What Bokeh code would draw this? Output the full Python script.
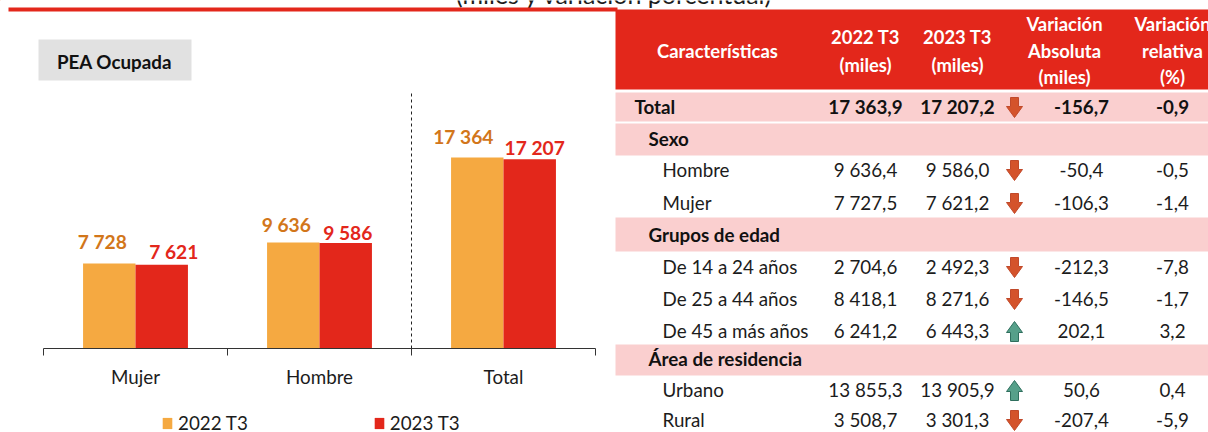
from bokeh.plotting import figure
from bokeh.models import Range1d, FixedTicker, LinearAxis, Legend, LegendItem
from bokeh.core.properties import value
from bokeh.embed import file_html
from bokeh.resources import INLINE

# ---- chart data
categories = ["Mujer", "Hombre", "Total"]
series_names = ["2022 T3", "2023 T3"]
values_2022 = [7728, 9636, 17364]
values_2023 = [7621, 9586, 17207]

# ---- table data
row_labels = ["Total", "Hombre", "Mujer", "De 14 a 24 años", "De 25 a 44 años", "De 45 a más años", "Urbano", "Rural"]
t_2022 = [17363.9, 9636.4, 7727.5, 2704.6, 8418.1, 6241.2, 13855.3, 3508.7]
t_2023 = [17207.2, 9586.0, 7621.2, 2492.3, 8271.6, 6443.3, 13905.9, 3301.3]
t_abs = [-156.7, -50.4, -106.3, -212.3, -146.5, 202.1, 50.6, -207.4]
t_rel = [-0.9, -0.5, -1.4, -7.8, -1.7, 3.2, 0.4, -5.9]
section_labels = ["Sexo", "Grupos de edad", "Área de residencia"]
title_text = "(miles y variación porcentual)"
box_text = "PEA Ocupada"

# ---- style / layout
FONT = value("Lato")
RED = "#E3271B"
ORANGE = "#F5A941"
ORANGE_TXT = "#D2761A"
PINK = "#FACFCF"
INK = "#1c1c1c"
TXT = "18.8px"
fmt1 = lambda v: f"{v:,.1f}".replace(",", " ").replace(".", ",")
fmt0 = lambda v: f"{v:,d}".replace(",", " ")

# ---------- base sheet: table, title, grey box (pixel-addressed)
b = figure(width=1208, height=432, x_range=Range1d(0, 1208), y_range=Range1d(432, 0),
           toolbar_location=None, tools="", output_backend="svg", min_border=0,
           x_axis_location=None, y_axis_location=None,
           styles={"position": "absolute", "left": "0px", "top": "0px"})
b.grid.visible = False
b.outline_line_color = None
b.background_fill_color = "white"

b.text(x=[614], y=[-7], text=[title_text], text_font=FONT, text_font_size="25px", text_color=INK,
       text_align="center", text_baseline="middle")
b.quad(left=[8], right=[617], top=[7], bottom=[11], fill_color=RED, line_color=None)
b.quad(left=[38], right=[191], top=[39], bottom=[80], fill_color="#E1E1E1", line_color=None)
b.text(x=[114], y=[60.5], text=[box_text], text_font=FONT, text_font_style="bold", text_font_size=TXT,
       text_color="#111111", text_align="center", text_baseline="middle")

# header
b.quad(left=[615], right=[1208], top=[9], bottom=[89], fill_color=RED, line_color=None)
hdr = [("Características", 717, 50.5), ("2022 T3", 865, 36.5), ("(miles)", 865, 64.5), ("2023 T3", 957, 36.5),
       ("(miles)", 957, 64.5), ("Variación", 1064, 23.5), ("Absoluta", 1064, 50.5), ("(miles)", 1064, 76.5),
       ("Variación", 1172, 23.5), ("relativa", 1172, 50.5), ("(%)", 1172, 76.5)]
b.text(x=[h[1] for h in hdr], y=[h[2] for h in hdr], text=[h[0] for h in hdr], text_font=FONT,
       text_font_style="bold", text_font_size="18.4px", text_color="white", text_align="center",
       text_baseline="middle")

# section bands
band_top = [92, 123, 217, 344]
band_bot = [121, 155, 251, 375]
b.quad(left=[615] * 4, right=[1208] * 4, top=band_top, bottom=band_bot, fill_color=PINK, line_color=None)
b.text(x=[648] * 3, y=[138, 234, 358], text=section_labels, text_font=FONT, text_font_style="bold",
       text_font_size=TXT, text_color="#111111", text_baseline="middle")

row_y = [106, 169, 202, 266, 298, 330, 389, 419]
label_x = [634] + [662] * 7
columns = [(865, t_2022), (957, t_2023), (1081, t_abs), (1172, t_rel)]
b.text(x=label_x[:1], y=row_y[:1], text=row_labels[:1], text_font=FONT, text_font_style="bold",
       text_font_size=TXT, text_color="#111111", text_baseline="middle")
b.text(x=label_x[1:], y=row_y[1:], text=row_labels[1:], text_font=FONT, text_font_size=TXT,
       text_color=INK, text_baseline="middle")
for cx, col in columns:
    b.text(x=[cx], y=row_y[:1], text=[fmt1(col[0])], text_font=FONT, text_font_style="bold",
           text_font_size=TXT, text_color="#111111", text_align="center", text_baseline="middle")
    b.text(x=[cx] * 7, y=row_y[1:], text=[fmt1(v) for v in col[1:]], text_font=FONT, text_font_size=TXT,
           text_color=INK, text_align="center", text_baseline="middle")

# arrows: direction follows the sign of the absolute variation
shape_x = [-4, 4, 4, 8, 0, -8, -4]
shape_y = [-10, -10, -1, -1, 10, -1, -1]
xs, ys, fills, lines = [], [], [], []
for ry, d in zip(row_y, t_abs):
    s = 1 if d < 0 else -1
    xs.append([1014 + sx for sx in shape_x])
    ys.append([ry + 1 + s * sy for sy in shape_y])
    fills.append("#D4532B" if d < 0 else "#56A08A")
    lines.append("#C0492A" if d < 0 else "#2F6F5E")
b.patches(xs, ys, fill_color=fills, line_color=lines, line_width=1)

# legend lives on the full-page sheet, keyed to the two bar colours (keys sit outside the view)
k1 = b.vbar(x=[-50], top=[-50], bottom=[-60], width=1, fill_color=ORANGE, line_color=None)
k2 = b.vbar(x=[-50], top=[-50], bottom=[-60], width=1, fill_color=RED, line_color=None)
legend = Legend(items=[LegendItem(label=series_names[0], renderers=[k1]),
                       LegendItem(label=series_names[1], renderers=[k2])],
                orientation="horizontal", location=(161, -2), glyph_width=12, glyph_height=14,
                label_standoff=5, spacing=125, padding=0, margin=0, border_line_color=None,
                background_fill_alpha=0, label_text_font="Lato", label_text_font_size=TXT,
                label_text_color=INK)
b.add_layout(legend, "center")

# ---------- bar chart overlay
PX_PER_UNIT = 0.011
p = figure(width=612, height=432, x_range=Range1d(0, 3), y_range=Range1d(0, 348 / PX_PER_UNIT),
           toolbar_location=None, tools="", output_backend="svg", min_border_left=43, min_border_right=17,
           min_border_top=0, min_border_bottom=84, y_axis_location=None, x_axis_location=None,
           background_fill_color=None, border_fill_color=None,
           styles={"position": "absolute", "left": "0px", "top": "0px"})
p.grid.visible = False
p.outline_line_color = None

centers = [i + 0.5 for i in range(len(categories))]
W = 0.285
r1 = p.vbar(x=[c - W / 2 for c in centers], top=values_2022, bottom=0, width=W, fill_color=ORANGE, line_color=None)
r2 = p.vbar(x=[c + W / 2 for c in centers], top=values_2023, bottom=0, width=W, fill_color=RED, line_color=None)

p.text(x=[c - W / 2 for c in centers], y=values_2022, text=[fmt0(v) for v in values_2022],
       x_offset=[-7, -7, -14], y_offset=[-22, -18, -21], text_font=FONT, text_font_style="bold",
       text_font_size="19.2px", text_color=ORANGE_TXT, text_align="center", text_baseline="middle")
p.text(x=[c + W / 2 for c in centers], y=values_2023, text=[fmt0(v) for v in values_2023],
       x_offset=[12, 2, 5], y_offset=[-13, -11, -12], text_font=FONT, text_font_style="bold",
       text_font_size="19.2px", text_color=RED, text_align="center", text_baseline="middle")

# dashed separator before "Total"
p.segment(x0=[2], x1=[2], y0=[0], y1=[255 / PX_PER_UNIT], line_color="#222222", line_width=1, line_dash="3 3")

ax = LinearAxis(ticker=FixedTicker(ticks=centers, minor_ticks=[0, 1, 2, 3]))
ax.major_label_overrides = {c: n for c, n in zip(centers, categories)}
ax.major_tick_line_color = None
ax.major_tick_out = 0
ax.major_tick_in = 0
ax.minor_tick_out = 7
ax.minor_tick_in = 0
ax.minor_tick_line_color = "#333333"
ax.axis_line_color = "#333333"
ax.major_label_standoff = 9
ax.major_label_text_font = "Lato"
ax.major_label_text_font_size = TXT
ax.major_label_text_color = INK
p.add_layout(ax, "below")

open("out.html", "w").write(file_html([b, p], INLINE))
